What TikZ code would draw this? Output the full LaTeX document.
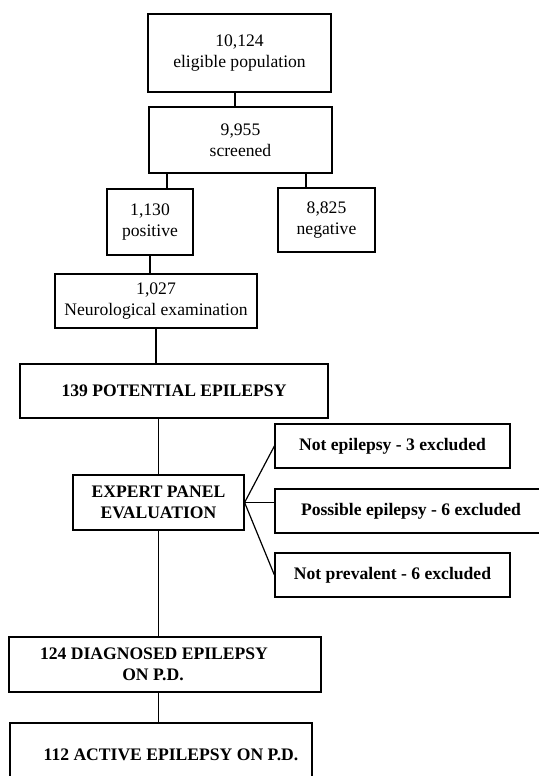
\documentclass[tikz,border=0pt]{standalone}
\usepackage{fontspec}
\setmainfont{Liberation Serif}
\usetikzlibrary{calc}

\begin{document}
\begin{tikzpicture}[x=0.5pt, y=-0.5pt, line width=0.6pt,
    box/.style={draw, align=center, inner sep=0pt, font=\fontsize{8.8}{10.5}\selectfont},
    boldbox/.style={box, font=\fontsize{8.8}{10.5}\selectfont\bfseries}]
    \useasboundingbox (0,0) rectangle (539,776);
    \node [box, minimum width=91.5pt, minimum height=39pt] (elig) at (239.5,53) {10,124\\eligible population};
    \node [box, minimum width=91.5pt, minimum height=33pt] (scr) at (240.5,140) {9,955\\screened};
    \node [box, minimum width=43pt, minimum height=33pt] (pos) at (150,222) {1,130\\positive};
    \node [box, minimum width=48.5pt, minimum height=32pt] (neg) at (326.5,220) {8,825\\negative};
    \node [box, minimum width=101pt, minimum height=27pt] (neuro) at (156,301) {1,027\\Neurological examination};
    \node [boldbox, minimum width=154pt, minimum height=27pt] (pot) at (174,391) {139 POTENTIAL EPILEPSY};
    \node [boldbox, minimum width=85.5pt, minimum height=27.5pt] (exp) at (158.5,502.5) {EXPERT PANEL\\EVALUATION};
    \node [boldbox, minimum width=117.5pt, minimum height=22pt] (notep) at (392.5,446) {Not epilepsy - 3 excluded};
    \node [boldbox, minimum width=136pt, minimum height=22pt] (possep) at (411,511) {Possible epilepsy - 6 excluded};
    \node [boldbox, minimum width=117.5pt, minimum height=22pt] (notprev) at (392.5,575) {Not prevalent - 6 excluded};
    \node [boldbox, minimum width=156pt, minimum height=27.5pt] (diag) at (165,664.5) {124 DIAGNOSED EPILEPSY\hspace*{11pt}\\ON P.D.\hspace*{12pt}};
    \node [boldbox, minimum width=151pt, minimum height=32pt] (act) at (161,755) {\hspace*{10pt}112 ACTIVE EPILEPSY ON P.D.};
    % connectors
    \draw ($(elig.south)+(-4.5,0)$) -- ($(elig.south |- scr.north)+(-4.5,0)$);
    \draw ($(pos.north)+(17,0)$) -- ($(pos.north |- scr.south)+(17,0)$);
    \draw ($(neg.north)+(-20.5,0)$) -- ($(neg.north |- scr.south)+(-20.5,0)$);
    \draw (pos.south) -- (pos.south |- neuro.north);
    \draw (neuro.south) -- (neuro.south |- pot.north);
    \draw (exp.north |- pot.south) -- (exp.north);
    \draw (exp.east) -- (notep.west);
    \draw (exp.east) -- (exp.east -| possep.west);
    \draw (exp.east) -- (notprev.west);
    \draw (exp.south) -- (exp.south |- diag.north);
    \draw (diag.south -| exp.south) -- (act.north -| exp.south);
\end{tikzpicture}
\end{document}
